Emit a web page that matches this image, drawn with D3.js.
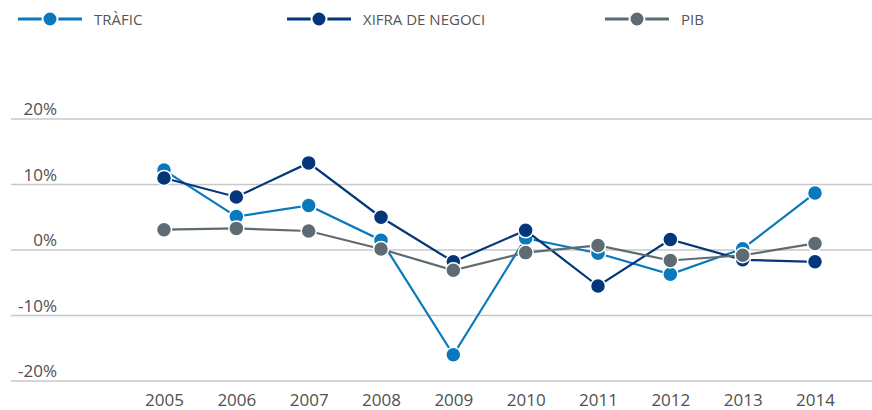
<!DOCTYPE html>
<html>
<head>
<meta charset="utf-8">
<script src="https://cdn.jsdelivr.net/npm/d3@7"></script>
<style>
  body { margin: 0; background: #fff; }
  text { font-family: "Open Sans", sans-serif; }
</style>
</head>
<body>
<div id="chart"></div>
<script>
// data
const years = ['2005', '2006', '2007', '2008', '2009', '2010', '2011', '2012', '2013', '2014'];
const trafic = [12.2, 5.1, 6.8, 1.5, -16.0, 1.8, -0.5, -3.7, 0.2, 8.7];
const xifra = [11.0, 8.1, 13.3, 5.0, -1.8, 3.0, -5.5, 1.6, -1.5, -1.8];
const pib = [3.1, 3.3, 2.9, 0.15, -3.1, -0.4, 0.7, -1.6, -0.8, 1.0];
const yTicks = [-20, -10, 0, 10, 20];
const seriesNames = ['TRÀFIC', 'XIFRA DE NEGOCI', 'PIB'];

const colors = ['#0a78bd', '#04367a', '#5f6b73'];
const series = [trafic, xifra, pib].map((vals, i) => ({ name: seriesNames[i], values: vals, color: colors[i] }));

const svgWidth = 872, svgHeight = 410;

const svg = d3.select('#chart').append('svg')
    .attr('width', svgWidth)
    .attr('height', svgHeight);

// scales
const xScale = d3.scalePoint().domain(years).range([164, 815]);
const yScale = d3.scaleLinear().domain([-20, 20]).range([381, 119]);

// gridlines
svg.append('g').selectAll('line')
    .data(yTicks)
    .enter()
    .append('line')
    .attr('x1', 11)
    .attr('x2', svgWidth)
    .attr('y1', d => yScale(d))
    .attr('y2', d => yScale(d))
    .attr('stroke', '#c8c8c8')
    .attr('stroke-width', 1.5);

// y labels
svg.append('g').selectAll('text')
    .data(yTicks)
    .enter()
    .append('text')
    .attr('x', 57)
    .attr('y', d => yScale(d) - 4)
    .attr('text-anchor', 'end')
    .style('font-size', '17px')
    .attr('fill', '#505050')
    .text(d => d + '%');

// x labels
const xAxis = d3.axisBottom(xScale).tickSize(0).tickPadding(0);
const xg = svg.append('g')
    .attr('transform', 'translate(0, 392)')
    .call(xAxis);
xg.select('.domain').remove();
xg.selectAll('text')
    .attr('dy', '0.71em')
    .attr('y', 2)
    .style('font-size', '17px')
    .style('font-family', '"Open Sans", sans-serif')
    .attr('fill', '#505050');

// lines and markers
const line = d3.line()
    .x((d, i) => xScale(years[i]))
    .y(d => yScale(d));

series.forEach(s => {
    const g = svg.append('g');
    g.append('path')
        .attr('d', line(s.values))
        .attr('fill', 'none')
        .attr('stroke', s.color)
        .attr('stroke-width', 2.2);
    g.selectAll('circle')
        .data(s.values)
        .enter()
        .append('circle')
        .attr('cx', (d, i) => xScale(years[i]))
        .attr('cy', d => yScale(d))
        .attr('r', 7.5)
        .attr('fill', s.color)
        .attr('stroke', '#fff')
        .attr('stroke-width', 1.5);
});

// legend
const legendX = [18, 287, 605];
const legend = svg.append('g').selectAll('g')
    .data(series)
    .enter()
    .append('g')
    .attr('transform', (d, i) => `translate(${legendX[i]}, 19)`);
legend.append('line')
    .attr('x1', 0)
    .attr('x2', 64)
    .attr('stroke', d => d.color)
    .attr('stroke-width', 3);
legend.append('circle')
    .attr('cx', 32)
    .attr('r', 7.5)
    .attr('fill', d => d.color)
    .attr('stroke', '#fff')
    .attr('stroke-width', 2);
legend.append('text')
    .attr('x', 76)
    .attr('y', 6)
    .style('font-size', '15px')
    .attr('fill', '#555')
    .text(d => d.name);
</script>
</body>
</html>
